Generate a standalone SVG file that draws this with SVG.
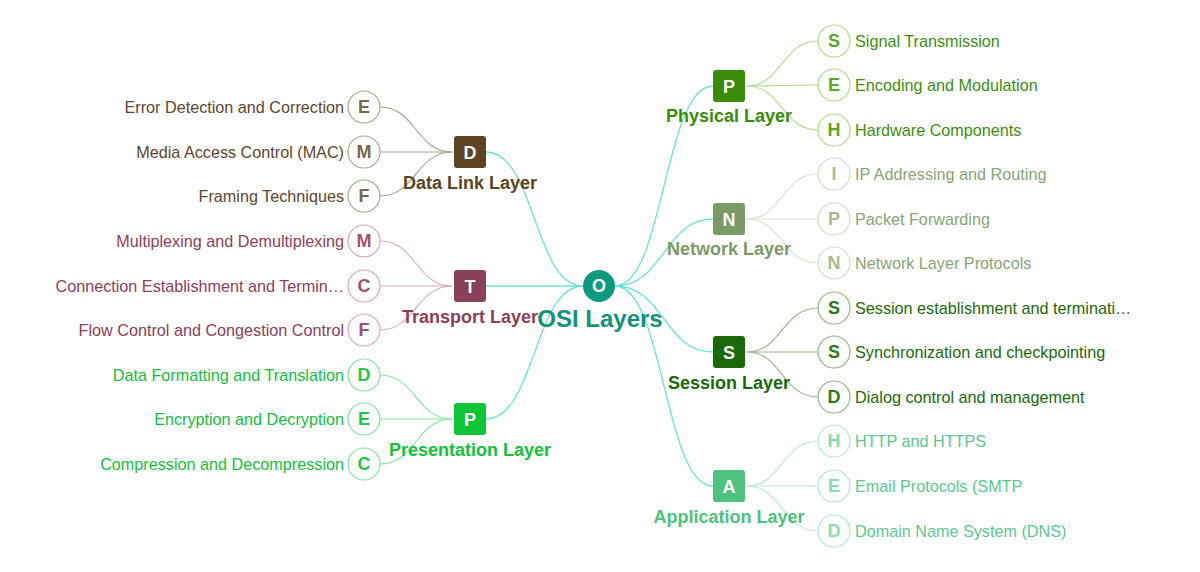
<svg xmlns="http://www.w3.org/2000/svg" width="1200" height="572" viewBox="0 0 1200 572">
<style>
text{font-family:"Liberation Sans",Arial,sans-serif}
.lt{font-size:16.2px;text-anchor:end}
.rt{font-size:16.2px;text-anchor:start}
.let{font-size:18px;font-weight:bold;text-anchor:middle}
.lbl{font-size:18px;font-weight:bold;text-anchor:middle}
.c{fill:#fff;stroke-width:1.2}
.main{fill:none;stroke:#6ee3d6;stroke-width:1.3}
.sub{fill:none;stroke-width:1.2}
.dl .c{stroke:#b3a38d}.dl .let{fill:#7d6547}.dl .t{fill:#5e4630}
.tr .c{stroke:#d7a9ba}.tr .let{fill:#a0506e}.tr .t{fill:#8e3e5a}
.pr .c{stroke:#86e49c}.pr .let{fill:#22c646}.pr .t{fill:#16be3c}
.ph .c{stroke:#b0da8e}.ph .let{fill:#58a82a}.ph .t{fill:#3c8e10}
.nw .c{stroke:#d2ddc8}.nw .let{fill:#a4bc94}.nw .t{fill:#86a676}
.se .c{stroke:#93b683}.se .let{fill:#2a7a1a}.se .t{fill:#1a6a0c}
.ap .c{stroke:#b2eacb}.ap .let{fill:#86dcae}.ap .t{fill:#5cc890}
</style>
<g id="connectors">
<path class="main" d="M583,286 C534,286 535,152 486,152"/>
<path class="main" d="M583,286 L486,286"/>
<path class="main" d="M583,286 C534,286 535,419 486,419"/>
<path class="main" d="M615,286 C664,286 664,86 713,86"/>
<path class="main" d="M615,286 C664,286 664,219 713,219"/>
<path class="main" d="M615,286 C664,286 664,352 713,352"/>
<path class="main" d="M615,286 C664,286 664,486 713,486"/>
<g stroke="#b3a38d">
<path class="sub" d="M452,152 C416,152 416,107 380,107"/>
<path class="sub" d="M452,152 L380,152"/>
<path class="sub" d="M452,152 C416,152 416,196 380,196"/>
</g>
<g stroke="#d9aebd">
<path class="sub" d="M452,286 C416,286 416,241 380,241"/>
<path class="sub" d="M452,286 L380,286"/>
<path class="sub" d="M452,286 C416,286 416,330 380,330"/>
</g>
<g stroke="#8ae6a0">
<path class="sub" d="M452,419 C416,419 416,375 380,375"/>
<path class="sub" d="M452,419 L380,419"/>
<path class="sub" d="M452,419 C416,419 416,464 380,464"/>
</g>
<g stroke="#b4dc94">
<path class="sub" d="M747,86 C782,86 782,41 818,41"/>
<path class="sub" d="M747,86 L818,85"/>
<path class="sub" d="M747,86 C782,86 782,130 818,130"/>
</g>
<g stroke="#dae4d2">
<path class="sub" d="M747,219 C782,219 782,174 818,174"/>
<path class="sub" d="M747,219 L818,219"/>
<path class="sub" d="M747,219 C782,219 782,263 818,263"/>
</g>
<g stroke="#97ba88">
<path class="sub" d="M747,352 C782,352 782,308 818,308"/>
<path class="sub" d="M747,352 L818,352"/>
<path class="sub" d="M747,352 C782,352 782,397 818,397"/>
</g>
<g stroke="#b8ecd0">
<path class="sub" d="M747,486 C782,486 782,441 818,441"/>
<path class="sub" d="M747,486 L818,486"/>
<path class="sub" d="M747,486 C782,486 782,531 818,531"/>
</g>
</g>

<g id="root">
<circle cx="599" cy="286" r="16" fill="#0f9a80"/>
<text x="599" y="292" class="let" fill="#fff">O</text>
<text x="600" y="327" font-size="24" font-weight="bold" text-anchor="middle" fill="#13927a">OSI Layers</text>
</g>

<g id="datalink" class="dl">
<rect x="454" y="136" width="32" height="32" rx="3" fill="#5c4321"/>
<text x="470" y="159" class="let" style="fill:#fff">D</text>
<text x="470" y="189" class="lbl" fill="#5c4321">Data Link Layer</text>
<g id="dl1"><circle class="c" cx="364" cy="107" r="16"/><text class="let" x="364" y="113">E</text><text class="lt t" x="344" y="113">Error Detection and Correction</text></g>
<g id="dl2"><circle class="c" cx="364" cy="152" r="16"/><text class="let" x="364" y="158">M</text><text class="lt t" x="344" y="158">Media Access Control (MAC)</text></g>
<g id="dl3"><circle class="c" cx="364" cy="196" r="16"/><text class="let" x="364" y="202">F</text><text class="lt t" x="344" y="202">Framing Techniques</text></g>
</g>

<g id="transport" class="tr">
<rect x="454" y="270" width="32" height="32" rx="3" fill="#8a4058"/>
<text x="470" y="293" class="let" style="fill:#fff">T</text>
<text x="470" y="323" class="lbl" fill="#8a4058">Transport Layer</text>
<g id="tr1"><circle class="c" cx="364" cy="241" r="16"/><text class="let" x="364" y="247">M</text><text class="lt t" x="344" y="247">Multiplexing and Demultiplexing</text></g>
<g id="tr2"><circle class="c" cx="364" cy="286" r="16"/><text class="let" x="364" y="292">C</text><text class="lt t" x="344" y="292">Connection Establishment and Termin…</text></g>
<g id="tr3"><circle class="c" cx="364" cy="330" r="16"/><text class="let" x="364" y="336">F</text><text class="lt t" x="344" y="336">Flow Control and Congestion Control</text></g>
</g>

<g id="presentation" class="pr">
<rect x="454" y="403" width="32" height="32" rx="3" fill="#10c437"/>
<text x="470" y="426" class="let" style="fill:#fff">P</text>
<text x="470" y="456" class="lbl" fill="#12c23a">Presentation Layer</text>
<g id="pr1"><circle class="c" cx="364" cy="375" r="16"/><text class="let" x="364" y="381">D</text><text class="lt t" x="344" y="381">Data Formatting and Translation</text></g>
<g id="pr2"><circle class="c" cx="364" cy="419" r="16"/><text class="let" x="364" y="425">E</text><text class="lt t" x="344" y="425">Encryption and Decryption</text></g>
<g id="pr3"><circle class="c" cx="364" cy="464" r="16"/><text class="let" x="364" y="470">C</text><text class="lt t" x="344" y="470">Compression and Decompression</text></g>
</g>

<g id="physical" class="ph">
<rect x="713" y="70" width="32" height="32" rx="3" fill="#3a8c08"/>
<text x="729" y="93" class="let" style="fill:#fff">P</text>
<text x="729" y="122" class="lbl" fill="#3a8c08">Physical Layer</text>
<g id="ph1"><circle class="c" cx="834" cy="41" r="16"/><text class="let" x="834" y="47">S</text><text class="rt t" x="855" y="47">Signal Transmission</text></g>
<g id="ph2"><circle class="c" cx="834" cy="85" r="16"/><text class="let" x="834" y="91">E</text><text class="rt t" x="855" y="91">Encoding and Modulation</text></g>
<g id="ph3"><circle class="c" cx="834" cy="130" r="16"/><text class="let" x="834" y="136">H</text><text class="rt t" x="855" y="136">Hardware Components</text></g>
</g>

<g id="network" class="nw">
<rect x="713" y="203" width="32" height="32" rx="3" fill="#7a9a68"/>
<text x="729" y="226" class="let" style="fill:#fff">N</text>
<text x="729" y="255" class="lbl" fill="#7a9a68">Network Layer</text>
<g id="nw1"><circle class="c" cx="834" cy="174" r="16"/><text class="let" x="834" y="180">I</text><text class="rt t" x="855" y="180">IP Addressing and Routing</text></g>
<g id="nw2"><circle class="c" cx="834" cy="219" r="16"/><text class="let" x="834" y="225">P</text><text class="rt t" x="855" y="225">Packet Forwarding</text></g>
<g id="nw3"><circle class="c" cx="834" cy="263" r="16"/><text class="let" x="834" y="269">N</text><text class="rt t" x="855" y="269">Network Layer Protocols</text></g>
</g>

<g id="session" class="se">
<rect x="713" y="336" width="32" height="32" rx="3" fill="#1a680a"/>
<text x="729" y="359" class="let" style="fill:#fff">S</text>
<text x="729" y="389" class="lbl" fill="#1a680a">Session Layer</text>
<g id="se1"><circle class="c" cx="834" cy="308" r="16"/><text class="let" x="834" y="314">S</text><text class="rt t" x="855" y="314">Session establishment and terminati…</text></g>
<g id="se2"><circle class="c" cx="834" cy="352" r="16"/><text class="let" x="834" y="358">S</text><text class="rt t" x="855" y="358">Synchronization and checkpointing</text></g>
<g id="se3"><circle class="c" cx="834" cy="397" r="16"/><text class="let" x="834" y="403">D</text><text class="rt t" x="855" y="403">Dialog control and management</text></g>
</g>

<g id="application" class="ap">
<rect x="713" y="470" width="32" height="32" rx="3" fill="#4ec27e"/>
<text x="729" y="493" class="let" style="fill:#fff">A</text>
<text x="729" y="523" class="lbl" fill="#4ec27e">Application Layer</text>
<g id="ap1"><circle class="c" cx="834" cy="441" r="16"/><text class="let" x="834" y="447">H</text><text class="rt t" x="855" y="447">HTTP and HTTPS</text></g>
<g id="ap2"><circle class="c" cx="834" cy="486" r="16"/><text class="let" x="834" y="492">E</text><text class="rt t" x="855" y="492">Email Protocols (SMTP</text></g>
<g id="ap3"><circle class="c" cx="834" cy="531" r="16"/><text class="let" x="834" y="537">D</text><text class="rt t" x="855" y="537">Domain Name System (DNS)</text></g>
</g>
</svg>
